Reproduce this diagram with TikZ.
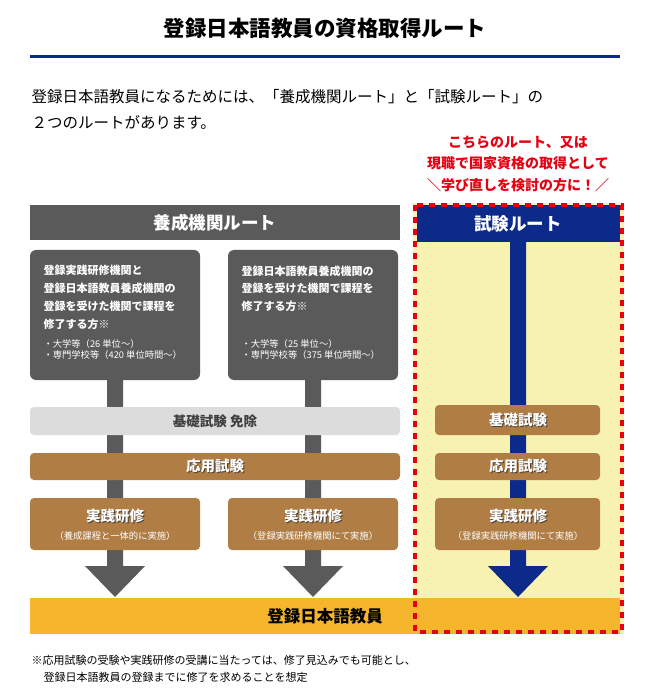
\documentclass[tikz,border=0pt]{standalone}
\usepackage{fontspec}
\setmainfont{Noto Sans CJK JP}
\definecolor{navy}{HTML}{0B2A8A}
\definecolor{dgray}{HTML}{5A5A5A}
\definecolor{lgray}{HTML}{DCDCDC}
\definecolor{brown}{HTML}{B07D45}
\definecolor{pale}{HTML}{F8F2B2}
\definecolor{gold}{HTML}{F5B52C}
\definecolor{rred}{HTML}{E60012}
\tikzset{
 px/.style={x=1pt,y=-1pt},
 graybox/.style={fill=dgray,rounded corners=6pt,draw=none},
 brownbox/.style={fill=brown,rounded corners=4pt,draw=none},
 btxt/.style={font=\bfseries\fontsize{14.5}{16}\selectfont,text=white},
 stxt/.style={font=\fontsize{9.3}{11.5}\selectfont,text=white},
}
\newcommand{\shtext}[4]{% pos, style, text, name
 \node[#2,text=black!80,opacity=.8] at ([shift={(1pt,-1pt)}]#1) {#3};
 \node[#2] (#4) at (#1) {#3};}
\begin{document}
\begin{tikzpicture}[px]
\useasboundingbox (0,0) rectangle (651,700);
\fill[white] (0,0) rectangle (651,700);
% title
\node[font=\bfseries\fontsize{21.5}{24}\selectfont] (title) at (325,28) {登録日本語教員の資格取得ルート};
\draw[navy,line width=3pt] (30,57) -- (620,57);
\node[anchor=west,font=\fontsize{15.5}{18}\selectfont] (p1) at (28,97) {登録日本語教員になるためには、「養成機関ルート」と「試験ルート」の};
\node[anchor=west,font=\fontsize{15.5}{18}\selectfont] (p2) at (28,122) {２つのルートがあります。};
% red note
\node[text=rred,font=\bfseries\fontsize{14}{21.5}\selectfont,align=center] (note) at (518,164) {こちらのルート、又は\\現職で国家資格の取得として\\＼学び直しを検討の方に！／};
% yellow area
\fill[pale] (413,203) rectangle (624,634);
% headers
\fill[dgray] (30,205) rectangle (400,240);
\node[text=white,font=\bfseries\fontsize{17.5}{20}\selectfont] (h1) at (215,223) {養成機関ルート};
\fill[navy] (417,205) rectangle (620,242);
\node[text=white,font=\bfseries\fontsize{17.5}{20}\selectfont] (h2) at (518,224) {試験ルート};
% arrows
\fill[dgray] (107,380) rectangle (123,566) (85,566) -- (145,566) -- (115,597) -- cycle;
\fill[dgray] (305,380) rectangle (321,566) (283,566) -- (343,566) -- (313,597) -- cycle;
\fill[navy] (510,242) rectangle (526,566) (488,566) -- (548,566) -- (518,597) -- cycle;
% gray boxes
\fill[graybox] (30,250) rectangle (200,380);
\fill[graybox] (228,250) rectangle (398,380);
\node[anchor=north west,align=left,text=white,font=\bfseries\fontsize{11}{17.8}\selectfont] (g1) at (40,262) {登録実践研修機関と\\登録日本語教員養成機関の\\登録を受けた機関で課程を\\修了する方※};
\node[anchor=north west,align=left,stxt] (g1b) at (40,336) {・大学等（26 単位～）\\・専門学校等（420 単位時間～）};
\node[anchor=north west,align=left,text=white,font=\bfseries\fontsize{11}{17.8}\selectfont] (g2) at (238,262) {登録日本語教員養成機関の\\登録を受けた機関で課程を\\修了する方※};
\node[anchor=north west,align=left,stxt] (g2b) at (238,336) {・大学等（25 単位～）\\・専門学校等（375 単位時間～）};
% bands
\fill[lgray,rounded corners=4pt] (30,407) rectangle (400,435);
\node[text=black!75,font=\bfseries\fontsize{13.5}{15}\selectfont] (k1) at (215,421) {基礎試験 免除};
\fill[brownbox] (30,453) rectangle (400,480);
\shtext{215,466}{btxt}{応用試験}{o1}
\fill[brownbox] (435,405) rectangle (600,435);
\shtext{518,420}{btxt}{基礎試験}{k2}
\fill[brownbox] (435,453) rectangle (600,480);
\shtext{518,466}{btxt}{応用試験}{o2}
% practice
\fill[brownbox] (30,498) rectangle (200,550);
\shtext{115,516}{btxt}{実践研修}{j1}
\node[stxt] (j1b) at (115,536) {（養成課程と一体的に実施）};
\fill[brownbox] (228,498) rectangle (398,550);
\shtext{313,516}{btxt}{実践研修}{j2}
\node[stxt] (j2b) at (313,536) {（登録実践研修機関にて実施）};
\fill[brownbox] (435,498) rectangle (600,550);
\shtext{518,516}{btxt}{実践研修}{j3}
\node[stxt] (j3b) at (518,536) {（登録実践研修機関にて実施）};
% bottom
\fill[gold] (30,598) rectangle (620,634);
\node[font=\bfseries\fontsize{16.5}{19}\selectfont] (fin) at (325,616) {登録日本語教員};
% red dashed border
\draw[rred,line width=3.5pt,dash pattern=on 6pt off 6pt] (415,205) rectangle (622,632);
% footnote
\node[anchor=west,font=\fontsize{11}{12}\selectfont] (f1) at (28,660) {※応用試験の受験や実践研修の受講に当たっては、修了見込みでも可能とし、};
\node[anchor=west,font=\fontsize{11}{12}\selectfont] (f2) at (40,677) {登録日本語教員の登録までに修了を求めることを想定};
\end{tikzpicture}
\end{document}
